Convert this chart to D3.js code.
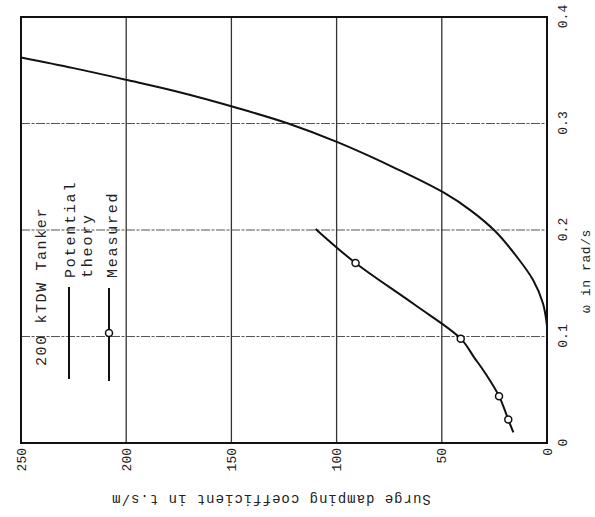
<!DOCTYPE html>
<html>
<head>
<meta charset="utf-8">
<script src="https://cdn.jsdelivr.net/npm/d3@7"></script>
<style>
  body { margin: 0; background: #fff; }
  text { font-family: "Liberation Mono", "DejaVu Sans Mono", monospace; fill: #222; }
</style>
</head>
<body>
<svg id="chart" width="595" height="517"></svg>
<script>
// tick labels
const omegaTicks = [0, 0.1, 0.2, 0.3, 0.4];
const dampingTicks = [0, 50, 100, 150, 200, 250];

// potential theory curve (omega in rad/s, damping in t.s/m)
const potentialOmega = [0.110, 0.131, 0.153, 0.175, 0.199, 0.218, 0.235, 0.257, 0.282, 0.300, 0.315, 0.330, 0.341, 0.352, 0.362];
const potentialDamping = [0, 1.9, 6.6, 14.4, 24.7, 36, 49, 71, 99, 123, 148, 176, 200, 225, 250];

// measured line and its marked points
const measuredOmega = [0.010, 0.022, 0.044, 0.066, 0.080, 0.098, 0.130, 0.169, 0.201];
const measuredDamping = [16, 18.4, 22.8, 29.5, 34.5, 41, 63, 91, 110];
const markerOmega = [0.022, 0.044, 0.098, 0.169];
const markerDamping = [18.4, 22.8, 41, 91];

const svg = d3.select("#chart");
svg.append("rect").attr("width", 595).attr("height", 517).attr("fill", "#fff");

// the figure is printed turned a quarter turn, so draw it upright and rotate it
const width = 426;   // omega direction
const height = 526;  // damping direction
const g = svg.append("g").attr("transform", "translate(21,443) rotate(-90)");

const x = d3.scaleLinear().domain([0, 0.4]).range([0, width]);
const y = d3.scaleLinear().domain([0, 250]).range([height, 0]);

// grid
g.append("g").selectAll("line").data(omegaTicks.slice(1, -1)).enter().append("line")
    .attr("x1", d => x(d)).attr("x2", d => x(d))
    .attr("y1", 0).attr("y2", height)
    .attr("stroke", "#555").attr("stroke-width", 1.1).attr("stroke-dasharray", "9,1.5,3,1.5");
g.append("g").selectAll("line").data(dampingTicks.slice(1, -1)).enter().append("line")
    .attr("x1", 0).attr("x2", width)
    .attr("y1", d => y(d)).attr("y2", d => y(d))
    .attr("stroke", "#333").attr("stroke-width", 1.3);

// frame
g.append("rect").attr("width", width).attr("height", height)
    .attr("fill", "none").attr("stroke", "#111").attr("stroke-width", 2);

// axes
const xAxis = g.append("g")
    .attr("transform", "translate(0," + height + ")")
    .call(d3.axisBottom(x).tickValues(omegaTicks).tickSize(0).tickPadding(11)
        .tickFormat(d => d === 0 ? "0" : d3.format(".1f")(d)));
const yAxis = g.append("g")
    .call(d3.axisLeft(y).tickValues(dampingTicks).tickSize(0).tickPadding(5));
[xAxis, yAxis].forEach(a => {
    a.select(".domain").remove();
    a.selectAll("text").attr("font-size", 13).attr("font-family", "Liberation Mono, monospace");
});

// axis titles
g.append("text")
    .attr("x", 172).attr("y", height + 43)
    .attr("text-anchor", "middle").attr("font-size", 13).attr("letter-spacing", 0.6)
    .text("ω in rad/s");
g.append("text")
    .attr("transform", "translate(-52,250) rotate(-90)")
    .attr("text-anchor", "middle").attr("font-size", 14).attr("letter-spacing", 1)
    .text("Surge damping coefficient in t.s/m");

// curves
const clip = svg.append("defs").append("clipPath").attr("id", "plotClip");
clip.append("rect").attr("width", width).attr("height", height);
const plot = g.append("g").attr("clip-path", "url(#plotClip)");

const line = d3.line().x(d => x(d[0])).y(d => y(d[1])).curve(d3.curveCatmullRom.alpha(0.5));

plot.append("path")
    .datum(d3.zip(potentialOmega, potentialDamping))
    .attr("d", line)
    .attr("fill", "none").attr("stroke", "#111").attr("stroke-width", 2);

plot.append("path")
    .datum(d3.zip(measuredOmega, measuredDamping))
    .attr("d", line)
    .attr("fill", "none").attr("stroke", "#111").attr("stroke-width", 2);

plot.selectAll(".marker").data(d3.zip(markerOmega, markerDamping)).enter().append("circle")
    .attr("class", "marker")
    .attr("cx", d => x(d[0])).attr("cy", d => y(d[1])).attr("r", 3.5)
    .attr("fill", "#fff").attr("stroke", "#111").attr("stroke-width", 1.5);

// legend
const legend = g.append("g");
legend.append("text").attr("x", 77).attr("y", 25)
    .attr("font-size", 15).attr("letter-spacing", 1.6).text("200 kTDW Tanker");
legend.append("line").attr("x1", 64).attr("x2", 156).attr("y1", 48).attr("y2", 48)
    .attr("stroke", "#111").attr("stroke-width", 2);
legend.append("text").attr("x", 165).attr("y", 54)
    .attr("font-size", 15).attr("letter-spacing", 1.8).text("Potential");
legend.append("text").attr("x", 165).attr("y", 71)
    .attr("font-size", 15).attr("letter-spacing", 1.8).text("theory");
legend.append("line").attr("x1", 62).attr("x2", 155).attr("y1", 88).attr("y2", 88)
    .attr("stroke", "#111").attr("stroke-width", 2);
legend.append("circle").attr("cx", 110).attr("cy", 88).attr("r", 3.5)
    .attr("fill", "#fff").attr("stroke", "#111").attr("stroke-width", 1.5);
legend.append("text").attr("x", 165).attr("y", 96)
    .attr("font-size", 15).attr("letter-spacing", 1.8).text("Measured");
</script>
</body>
</html>
